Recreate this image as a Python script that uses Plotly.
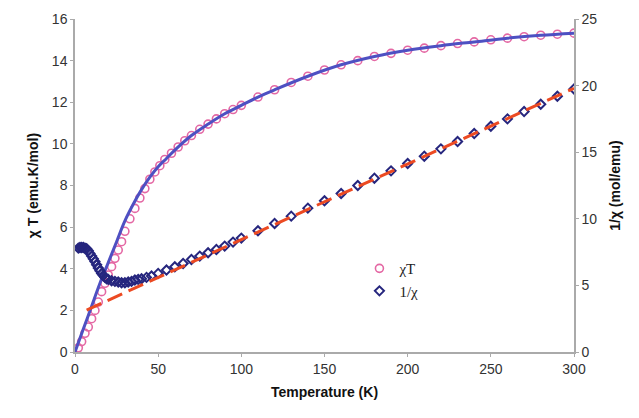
import plotly.graph_objects as go

# chi*T measured data (emu.K/mol)
chiT_temp = [2, 4, 6, 8, 10, 12, 14, 16, 18, 20, 22, 24, 26, 28, 30, 33, 36, 39, 42, 45,
             48, 51, 54, 58, 62, 66, 70, 75, 80, 85, 90, 95, 100, 110, 120, 130, 140, 150,
             160, 170, 180, 190, 200, 210, 220, 230, 240, 250, 260, 270, 280, 290, 300]
chiT_vals = [0.2, 0.5, 0.9, 1.2, 1.6, 2.0, 2.4, 2.9, 3.3, 3.7, 4.1, 4.5, 4.9, 5.3, 5.8, 6.4,
             6.9, 7.4, 7.85, 8.3, 8.65, 8.95, 9.25, 9.55, 9.85, 10.15, 10.4, 10.7, 10.95, 11.2,
             11.45, 11.65, 11.85, 12.25, 12.6, 12.95, 13.25, 13.55, 13.8, 14.0, 14.2, 14.35,
             14.5, 14.6, 14.72, 14.82, 14.9, 15.0, 15.08, 15.15, 15.22, 15.27, 15.32]

# chi*T model curve
fit_temp = [0, 5, 10, 15, 20, 25, 30, 35, 40, 45, 50, 55, 60, 70, 80, 90, 100, 110, 120,
            140, 160, 180, 200, 220, 240, 260, 280, 300]
fit_vals = [0.0, 1.1, 2.2, 3.3, 4.3, 5.3, 6.3, 7.1, 7.8, 8.4, 8.9, 9.3, 9.7, 10.4, 10.95,
            11.45, 11.85, 12.25, 12.6, 13.25, 13.8, 14.2, 14.5, 14.72, 14.9, 15.08, 15.22, 15.32]

# inverse susceptibility (mol/emu)
inv_temp = [2, 3, 4, 5, 6, 7, 8, 9, 10, 11, 12, 13, 14, 15, 16, 17, 18, 19, 20, 22, 24, 26,
            28, 30, 32, 34, 36, 38, 40, 43, 46, 50, 55, 60, 65, 70, 75, 80, 85, 90, 95, 100,
            110, 120, 130, 140, 150, 160, 170, 180, 190, 200, 210, 220, 230, 240, 250, 260,
            270, 280, 290, 300]
inv_vals = [7.8, 7.85, 7.85, 7.85, 7.8, 7.75, 7.6, 7.4, 7.2, 7.0, 6.8, 6.55, 6.3, 6.1, 5.9,
            5.75, 5.6, 5.5, 5.45, 5.35, 5.3, 5.25, 5.2, 5.2, 5.25, 5.3, 5.4, 5.45, 5.5, 5.6,
            5.7, 5.9, 6.15, 6.4, 6.65, 6.95, 7.2, 7.45, 7.7, 7.95, 8.25, 8.55, 9.1, 9.65,
            10.2, 10.8, 11.35, 11.9, 12.5, 13.05, 13.6, 14.15, 14.7, 15.25, 15.8, 16.4,
            16.95, 17.5, 18.05, 18.6, 19.2, 19.75]

# Curie-Weiss linear fit of 1/chi
cw_temp = [7, 300]
cw_vals = [3.15, 19.8]

x_ticks = [0, 50, 100, 150, 200, 250, 300]

fig = go.Figure()

fig.add_trace(go.Scatter(
    x=chiT_temp, y=chiT_vals, mode="markers", name="χT",
    marker=dict(symbol="circle-open", size=8, color="#e468a4", line=dict(width=1.6)),
))
fig.add_trace(go.Scatter(
    x=fit_temp, y=fit_vals, mode="lines", showlegend=False,
    line=dict(color="#4e50c2", width=3, shape="spline"),
))
fig.add_trace(go.Scatter(
    x=inv_temp, y=inv_vals, mode="markers", name="1/χ", yaxis="y2",
    marker=dict(symbol="diamond-open", size=7, color="#26267e", line=dict(width=2)),
))
fig.add_trace(go.Scatter(
    x=cw_temp, y=cw_vals, mode="lines", showlegend=False, yaxis="y2",
    line=dict(color="#ec4a22", width=3, dash="16px,7px"),
))

axis_font = dict(family="Liberation Sans, Arial", size=14, color="#333333")
title_font = dict(family="Liberation Sans, Arial", size=14, color="#111111")

fig.update_layout(
    width=639, height=418,
    margin=dict(l=75, r=65, t=19, b=66),
    plot_bgcolor="white", paper_bgcolor="white",
    xaxis=dict(
        range=[0, 300], tickvals=x_ticks, showgrid=False, zeroline=False,
        showline=True, linecolor="#aaaaaa", linewidth=1.5,
        ticks="outside", ticklen=3, tickcolor="#aaaaaa",
        tickfont=axis_font,
        title=dict(text="<b>Temperature (K)</b>", font=title_font, standoff=12),
    ),
    yaxis=dict(
        range=[0, 16], dtick=2, showgrid=False, zeroline=False,
        showline=True, linecolor="#aaaaaa", linewidth=1.5,
        ticks="outside", ticklen=3, tickcolor="#aaaaaa",
        tickfont=axis_font,
        title=dict(text="<b>χ T (emu.K/mol)</b>", font=title_font, standoff=10),
    ),
    yaxis2=dict(
        range=[0, 25], dtick=5, overlaying="y", side="right",
        showgrid=False, zeroline=False,
        showline=True, linecolor="#aaaaaa", linewidth=1.5,
        ticks="outside", ticklen=3, tickcolor="#aaaaaa",
        tickfont=axis_font,
        title=dict(text="<b>1/χ (mol/emu)</b>", font=title_font, standoff=14),
    ),
    legend=dict(
        x=0.57, y=0.3, xanchor="left", yanchor="top",
        bgcolor="rgba(0,0,0,0)",
        font=dict(family="Liberation Serif, Times New Roman", size=15, color="#222222"),
    ),
)

fig.write_html("out.html")
